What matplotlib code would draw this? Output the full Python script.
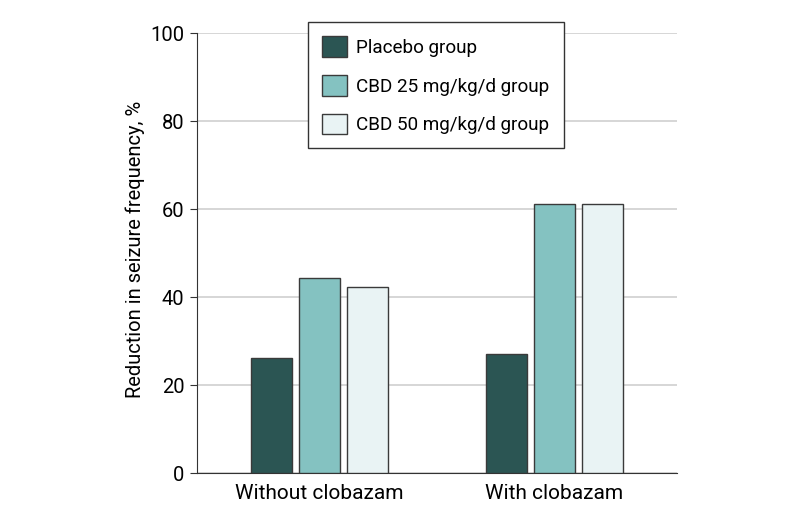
import matplotlib.pyplot as plt
import numpy as np

plt.rcParams['font.family'] = ['Roboto', 'DejaVu Sans']

# data
groups = ['Without clobazam', 'With clobazam']
series = ['Placebo group', 'CBD 25 mg/kg/d group', 'CBD 50 mg/kg/d group']
placebo = [26.3, 27.2]
cbd25 = [44.4, 61.1]
cbd50 = [42.3, 61.1]
colors = ['#2b5553', '#84c2c1', '#e9f3f4']

x = np.arange(len(groups))
width = 0.175
step = 0.204

fig = plt.figure(figsize=(7.94, 5.25), dpi=100)
ax = fig.add_axes([197 / 794, 1 - 473.3 / 525, 480 / 794, 440 / 525])

#bars
for i, (vals, lab) in enumerate(zip([placebo, cbd25, cbd50], series)):
    ax.bar(x + (i - 1) * step, vals, width, label=lab, color=colors[i],
           edgecolor='#3a3a3a', linewidth=1.0, zorder=3)

ax.set_ylim(0, 100)
ax.set_xlim(-0.521, 1.521)
ax.set_yticks([0, 20, 40, 60, 80, 100])
ax.set_xticks(x)
ax.set_xticklabels(groups, fontsize=15)
ax.tick_params(axis='x', length=0, pad=8)
ax.tick_params(axis='y', labelsize=14.5, length=5, width=0.8, color='#333333', pad=4)
ax.set_ylabel('Reduction in seizure frequency, %', fontsize=14.5)
ax.yaxis.set_label_coords(-0.108, 0.51)

#grid and spines
ax.yaxis.grid(True, color='#d0d0d0', linewidth=1.2, zorder=0)
ax.set_axisbelow(True)
for s in ['top', 'right']:
    ax.spines[s].set_visible(False)
ax.spines['left'].set_color('#333333')
ax.spines['bottom'].set_color('#333333')

leg = ax.legend(loc='upper left', bbox_to_anchor=((308 - 197) / 480, 1 + 11 / 440),
                fontsize=13.6, frameon=True, fancybox=False, edgecolor='#333333',
                handlelength=1.3, handleheight=1.3, handletextpad=0.5,
                labelspacing=0.95, borderpad=0.75, borderaxespad=0)
leg.get_frame().set_linewidth(1.0)
leg.get_frame().set_alpha(1)

fig.savefig('out.png', dpi=100)
